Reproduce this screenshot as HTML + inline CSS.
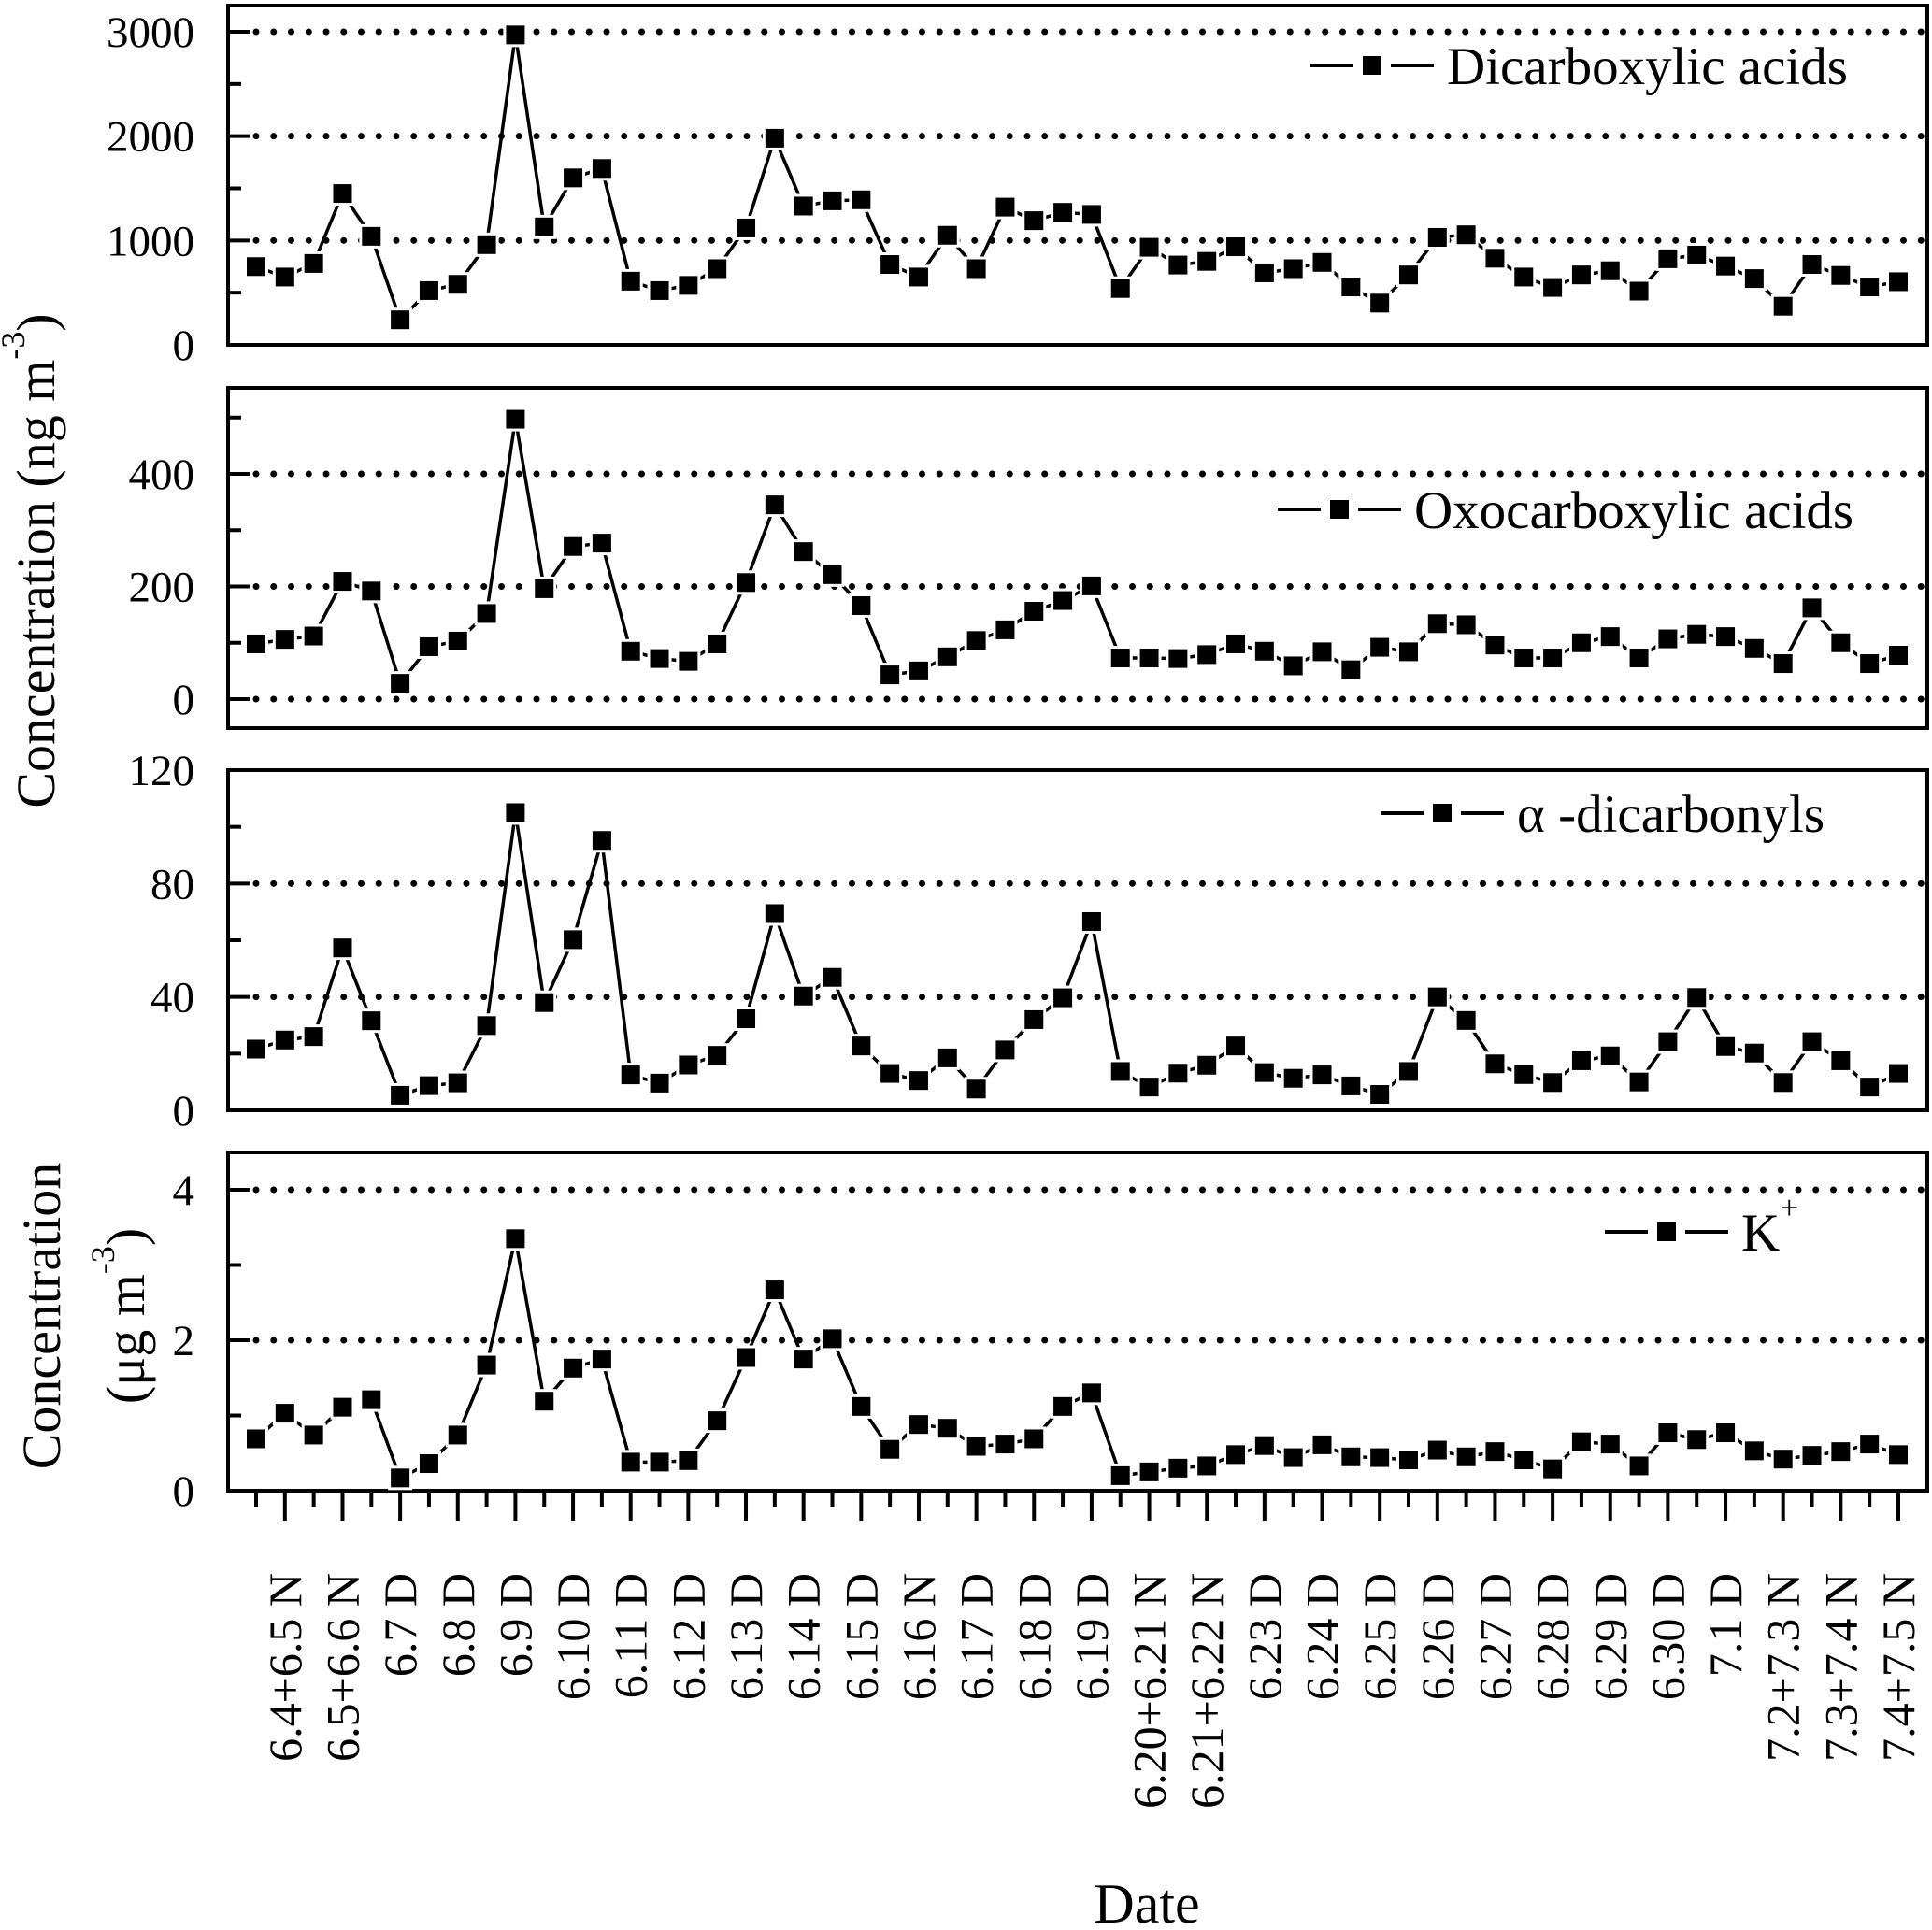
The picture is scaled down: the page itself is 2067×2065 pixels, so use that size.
<!DOCTYPE html>
<html><head><meta charset="utf-8"><style>
html,body{margin:0;padding:0;background:#fff}
svg{display:block}
text{font-family:"Liberation Serif","DejaVu Serif",serif;fill:#000}
</style></head><body>
<svg id="chart" xmlns="http://www.w3.org/2000/svg" width="2067" height="2065" viewBox="0 0 2067 2065"></svg>
<script>
const dates = ["6.4+6.5 N","6.5+6.6 N","6.7 D","6.8 D","6.9 D","6.10 D","6.11 D","6.12 D","6.13 D","6.14 D","6.15 D","6.16 N","6.17 D","6.18 D","6.19 D","6.20+6.21 N","6.21+6.22 N","6.23 D","6.24 D","6.25 D","6.26 D","6.27 D","6.28 D","6.29 D","6.30 D","7.1 D","7.2+7.3 N","7.3+7.4 N","7.4+7.5 N"];
const dicarboxylic = [750,650,780,1450,1040,240,520,580,960,2970,1130,1600,1690,610,520,570,730,1120,1980,1330,1380,1390,770,650,1050,730,1320,1190,1270,1250,540,935,765,800,940,690,730,790,555,400,670,1030,1055,830,650,550,670,710,515,825,860,755,635,370,770,665,555,605];
const oxocarboxylic = [98,106,112,209,192,28,93,103,152,497,196,271,277,85,72,67,98,207,345,262,221,166,43,50,75,104,123,156,175,201,73,73,72,79,98,85,59,84,52,92,84,134,132,96,73,73,100,111,73,107,115,111,90,63,162,100,63,78];
const dicarbonyls = [21.6,24.8,26,57.3,31.6,5.3,8.7,9.7,29.9,105,38,60.2,95.2,12.5,9.6,16,19.4,32.3,69.4,40.3,46.9,22.7,13,10.5,18.5,7.5,21.3,32,39.7,66.6,13.7,8.2,13.1,15.9,22.7,13.3,11.3,12.5,8.6,5.6,13.7,40,31.7,16.4,12.6,9.8,17.5,19.2,10,24.2,39.8,22.5,20.2,9.8,24.2,17.5,8.2,13];
const potassium = [0.69,1.03,0.74,1.11,1.21,0.17,0.36,0.74,1.67,3.35,1.19,1.63,1.75,0.38,0.38,0.40,0.93,1.77,2.67,1.75,2.02,1.12,0.55,0.88,0.83,0.59,0.62,0.69,1.12,1.30,0.20,0.25,0.30,0.33,0.48,0.60,0.44,0.61,0.45,0.44,0.41,0.54,0.45,0.52,0.41,0.29,0.65,0.62,0.33,0.77,0.68,0.77,0.53,0.42,0.47,0.52,0.62,0.48];
const potassiumBreaks = [3];
const tickLabels1 = ["0","1000","2000","3000"];
const tickLabels2 = ["0","200","400"];
const tickLabels3 = ["0","40","80","120"];
const tickLabels4 = ["0","2","4"];

const NS="http://www.w3.org/2000/svg";
const svg=document.getElementById('chart');
const L=244, R=2062, X0=274, X57=2031;
function xs(i){return X0+(X57-X0)*i/57;}
function mk(tag,attrs,parent){const e=document.createElementNS(NS,tag);for(const k in attrs)e.setAttribute(k,attrs[k]);(parent||svg).appendChild(e);return e;}

const panels=[
 {name:'dicarboxylic',data:dicarboxylic,top:6,bot:369,v0:0,v1:3000,y1:34,major:[0,1000,2000,3000],minor:[500,1500,2500],grid:[1000,2000,3000],labels:tickLabels1,breaks:[],legend:'Dicarboxylic acids',lg:{x:1402,y:70}},
 {name:'oxocarboxylic',data:oxocarboxylic,top:415,bot:779,v0:0,y0:748,v1:400,y1:507,major:[0,200,400],minor:[100,300,500],grid:[0,200,400],labels:tickLabels2,breaks:[],legend:'Oxocarboxylic acids',lg:{x:1367,y:545}},
 {name:'dicarbonyls',data:dicarbonyls,top:824,bot:1188,v0:0,v1:120,y1:824,major:[0,40,80,120],minor:[20,60,100],grid:[40,80],labels:tickLabels3,breaks:[],legend:'α -dicarbonyls',lg:{x:1477,y:870}},
 {name:'potassium',data:potassium,top:1233,bot:1595,v0:0,v1:4,y1:1273,major:[0,2,4],minor:[1,3],grid:[2,4],labels:tickLabels4,breaks:potassiumBreaks,legend:'K',lg:{x:1717,y:1318}}
];

panels.forEach((p,pi)=>{
  const y0 = p.y0!==undefined ? p.y0 : p.bot;
  const ys = v => y0 + (p.y1-y0)*(v-p.v0)/(p.v1-p.v0);
  const g=mk('g',{});
  
  
  p.grid.forEach(v=>{
    const gl=mk('line',{x1:L+30,x2:R-4,y1:ys(v),y2:ys(v),stroke:'#000','stroke-width':7,'stroke-linecap':'round','stroke-dasharray':'0 18.75'},g);
    
    
  });
  const fr=mk('rect',{x:L,y:p.top,width:R-L,height:p.bot-p.top,fill:'none',stroke:'#000','stroke-width':4},g);
  
  
  p.major.forEach((v,k)=>{
    const t=mk('line',{x1:L,x2:L+24,y1:ys(v),y2:ys(v),stroke:'#000','stroke-width':4},g);
    
    
    const tx=mk('text',{x:208,y:ys(v)+16,'text-anchor':'end','font-size':47},g);
    tx.textContent=p.labels[k];
    
    
  });
  p.minor.forEach(v=>{
    const yy=ys(v); if(yy<p.top+2) return;
    const t=mk('line',{x1:L,x2:L+14,y1:yy,y2:yy,stroke:'#000','stroke-width':4},g);
    
    
  });
  for(let i=0;i<p.data.length-1;i++){
    if(p.breaks.indexOf(i)>=0) continue;
    const s=mk('line',{x1:xs(i),y1:ys(p.data[i]),x2:xs(i+1),y2:ys(p.data[i+1]),stroke:'#000','stroke-width':3.5},g);
    
    
  }
  p.data.forEach((v,i)=>{
    const w=mk('rect',{x:xs(i)-13,y:ys(v)-13,width:26,height:26,fill:'#fff'},g);
    
    
  });
  p.data.forEach((v,i)=>{
    const m=mk('rect',{x:xs(i)-10,y:ys(v)-10,width:20,height:20,fill:'#000'},g);
    
    
  });
  const lg=mk('g',{},g);
  
  
  const lx=p.lg.x, ly=p.lg.y;
  mk('line',{x1:lx,x2:lx+46,y1:ly,y2:ly,stroke:'#000','stroke-width':4},lg);
  mk('rect',{x:lx+56,y:ly-10,width:20,height:20,fill:'#000'},lg);
  mk('line',{x1:lx+86,x2:lx+132,y1:ly,y2:ly,stroke:'#000','stroke-width':4},lg);
  const lt=mk('text',{x:lx+146,y:ly+20,'font-size':57},lg);
  lt.textContent=p.legend;
  if(p.name==='potassium'){
    const sp=mk('tspan',{dy:-34,'font-size':36},lt); sp.textContent='+';
  }
});

for(let i=0;i<58;i++){
  const major=i%2===1;
  const t=mk('line',{x1:xs(i),x2:xs(i),y1:1595,y2:1595+(major?32:17),stroke:'#000','stroke-width':4});
  
  
}
dates.forEach((d,k)=>{
  const x=xs(2*k+1)+17, y=1683;
  const t=mk('text',{x:x,y:y,'text-anchor':'end','font-size':50,transform:`rotate(-90 ${x} ${y})`});
  t.textContent=d;
  
  
});

function rotText(str,x,y,size,name,sup,rest){
  const t=mk('text',{x:x,y:y,'text-anchor':'middle','font-size':size,transform:`rotate(-90 ${x} ${y})`});
  t.appendChild(document.createTextNode(str));
  if(sup){const s=mk('tspan',{dy:-size*0.55,'font-size':size*0.62},t);s.textContent=sup;
    const r=mk('tspan',{dy:size*0.55},t);r.textContent=rest;}
  
  
  return t;
}
rotText('Concentration (ng m',58,600,58,'y-axis-title-top','-3',')');
rotText('Concentration',64,1408,58,'y-axis-title-bottom');
rotText('(μg m',154,1408,58,'y-axis-title-bottom-unit','-3',')');
const dt=mk('text',{x:1227,y:2057,'text-anchor':'middle','font-size':60});
dt.textContent='Date';


</script>
</body></html>
